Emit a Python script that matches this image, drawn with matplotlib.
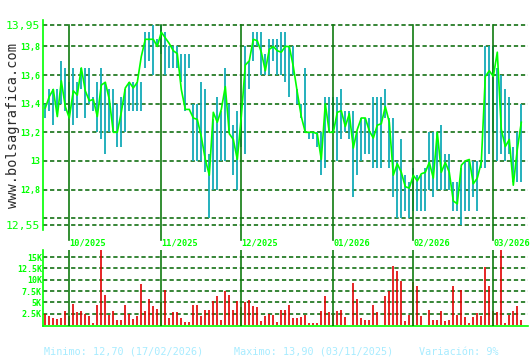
import matplotlib
matplotlib.use("Agg")
import matplotlib.pyplot as plt
import matplotlib.transforms as mtransforms

# ---------------- data ----------------
close = [13.37, 13.45, 13.50, 13.31, 13.56, 13.38, 13.30, 13.49, 13.46, 13.65,
         13.49, 13.42, 13.43, 13.31, 13.53, 13.55, 13.43, 13.20, 13.20, 13.34,
         13.51, 13.55, 13.51, 13.55, 13.73, 13.85, 13.85, 13.85, 13.80, 13.90,
         13.86, 13.82, 13.77, 13.75, 13.50, 13.36, 13.36, 13.30, 13.29, 13.17,
         13.01, 12.90, 13.34, 13.27, 13.36, 13.52, 13.19, 13.15, 13.01, 13.31,
         13.67, 13.70, 13.85, 13.84, 13.76, 13.63, 13.78, 13.80, 13.77, 13.76,
         13.80, 13.80, 13.66, 13.48, 13.31, 13.20, 13.20, 13.20, 13.19, 13.01,
         13.40, 13.20, 13.20, 13.34, 13.35, 13.24, 13.33, 13.09, 13.22, 13.30,
         13.30, 13.21, 13.16, 13.25, 13.26, 13.38, 13.27, 12.90, 12.98, 12.92,
         12.82, 12.81, 12.90, 12.86, 12.91, 12.92, 12.99, 12.88, 13.20, 12.92,
         12.99, 12.92, 12.72, 12.70, 12.97, 13.00, 13.01, 12.84, 12.88, 12.99,
         13.59, 13.63, 13.59, 13.76, 13.22, 13.10, 13.15, 12.83, 13.08, 13.27]

high = [13.40, 13.50, 13.50, 13.50, 13.70, 13.65, 13.55, 13.65, 13.55, 13.65,
        13.65, 13.65, 13.45, 13.55, 13.65, 13.55, 13.50, 13.50, 13.40, 13.45,
        13.50, 13.55, 13.55, 13.55, 13.55, 13.90, 13.90, 13.95, 13.85, 13.95,
        13.90, 13.80, 13.80, 13.80, 13.75, 13.75, 13.75, 13.40, 13.40, 13.55,
        13.50, 13.05, 13.29, 13.45, 13.35, 13.65, 13.40, 13.25, 13.35, 13.40,
        13.80, 13.70, 13.90, 13.90, 13.90, 13.75, 13.85, 13.85, 13.85, 13.90,
        13.90, 13.80, 13.80, 13.50, 13.40, 13.65, 13.20, 13.20, 13.20, 13.20,
        13.45, 13.45, 13.45, 13.45, 13.50, 13.35, 13.35, 13.35, 13.20, 13.30,
        13.30, 13.30, 13.45, 13.45, 13.45, 13.50, 13.30, 13.30, 13.00, 13.15,
        12.90, 12.85, 12.95, 12.90, 12.90, 12.95, 13.20, 13.20, 13.20, 13.25,
        13.05, 13.05, 12.85, 12.85, 12.95, 13.00, 13.00, 13.00, 13.00, 13.00,
        13.80, 13.80, 13.80, 13.65, 13.60, 13.50, 13.45, 13.10, 13.20, 13.40]

low = [13.30, 13.35, 13.25, 13.35, 13.40, 13.35, 13.30, 13.25, 13.30, 13.50,
       13.30, 13.40, 13.35, 13.20, 13.15, 13.05, 13.20, 13.20, 13.10, 13.10,
       13.20, 13.35, 13.35, 13.35, 13.35, 13.65, 13.70, 13.60, 13.80, 13.75,
       13.60, 13.65, 13.65, 13.65, 13.55, 13.35, 13.65, 13.00, 13.00, 13.00,
       12.92, 12.60, 12.80, 12.80, 13.00, 13.00, 13.20, 12.90, 12.80, 13.10,
       13.05, 13.50, 13.70, 13.80, 13.60, 13.60, 13.60, 13.70, 13.60, 13.60,
       13.55, 13.45, 13.60, 13.40, 13.30, 13.20, 13.15, 13.15, 13.10, 12.90,
       12.95, 13.20, 13.20, 13.00, 13.15, 13.20, 13.15, 12.75, 12.90, 13.00,
       13.05, 13.05, 12.95, 12.95, 12.95, 13.30, 12.95, 12.75, 12.60, 12.60,
       12.65, 12.60, 12.65, 12.65, 12.65, 12.65, 12.80, 12.75, 12.80, 12.80,
       12.80, 12.80, 12.65, 12.65, 12.55, 12.65, 12.65, 12.75, 12.65, 12.95,
       12.95, 13.05, 13.20, 13.00, 13.05, 13.00, 13.05, 12.85, 12.85, 12.85]

volume_k = [2.5, 1.9, 1.6, 1.4, 1.6, 3.0, 2.0, 4.7, 2.8, 3.0,
            2.5, 1.9, 0.4, 4.5, 17.5, 6.7, 2.1, 3.0, 1.0, 1.0,
            4.5, 2.5, 1.4, 1.9, 9.1, 3.0, 5.8, 4.1, 3.6, 5.0,
            7.7, 1.5, 2.8, 2.8, 1.5, 0.6, 0.6, 4.5, 4.5, 1.9,
            3.4, 3.4, 5.2, 6.5, 1.0, 7.4, 6.7, 3.4, 5.2, 4.0,
            5.0, 5.6, 4.1, 3.9, 0.8, 1.9, 2.5, 2.3, 0.6, 3.2,
            3.4, 4.5, 1.5, 1.5, 1.7, 2.3, 0.4, 0.4, 0.4, 3.0,
            6.3, 2.8, 2.5, 3.0, 3.4, 1.7, 0.1, 9.3, 5.8, 1.5,
            1.2, 1.0, 4.5, 2.8, 0.1, 6.3, 7.4, 13.0, 12.0, 9.8,
            0.8, 2.1, 9.5, 8.7, 1.9, 0.1, 3.2, 1.2, 1.2, 3.0,
            0.8, 1.2, 8.7, 2.3, 7.8, 1.7, 0.4, 1.7, 2.6, 1.9,
            12.8, 8.5, 3.0, 2.8, 17.5, 0.4, 2.1, 3.0, 4.1, 1.0]

month_idx = [6, 29, 49, 72, 92, 112]
month_labels = ["10/2025", "11/2025", "12/2025", "01/2026", "02/2026", "03/2026"]

price_ticks = [13.95, 13.8, 13.6, 13.4, 13.2, 13.0, 12.8, 12.55]
price_tick_labels = ["13,95", "13,8", "13,6", "13,4", "13,2", "13", "12,8", "12,55"]
price_minor_grid = [12.6]

vol_ticks = [2.5, 5, 7.5, 10, 12.5, 15]
vol_tick_labels = ["2.5K", "5K", "7.5K", "10K", "12.5K", "15K"]

footer_min = "Minimo: 12,70 (17/02/2026)"
footer_max = "Maximo: 13,90 (03/11/2025)"
footer_var = "Variación: 9%"
watermark = "www.bolsagrafica.com"

# ---------------- style ----------------
W, H = 530, 360
BRIGHT = "#00ff00"
GRID = "#006400"
MONTH = "#107c10"
TEAL = "#12aab8"
RED = "#e00000"
FOOT = "#a8ecff"
MONO = "DejaVu Sans Mono"

fig = plt.figure(figsize=(W / 100, H / 100), dpi=100)
fig.patch.set_facecolor("white")


def fx(px):
    return px / W


def fy(py):
    return 1 - py / H


left_px, right_px = 43.3, 528.0
x_first_px, step_px = 45.3, 4.0
xlim = (-(x_first_px - left_px) / step_px, (right_px - x_first_px) / step_px)
x = list(range(len(close)))

# ---------------- price axes ----------------
top_px, bot_px = 20.0, 230.0
ax = fig.add_axes([fx(left_px), fy(bot_px), (right_px - left_px) / W, (bot_px - top_px) / H])
ppu = (225.3 - 25.0) / 1.4
ax.set_xlim(*xlim)
ax.set_ylim(12.55 - (bot_px - 225.3) / ppu, 13.95 + (25.0 - top_px) / ppu)
ax.set_facecolor("white")

ax.set_yticks(price_ticks, labels=price_tick_labels)
ax.set_yticks(price_minor_grid, minor=True)
ax.tick_params(axis="y", which="both", length=0, pad=2.5, colors=BRIGHT)
for lab, v in zip(ax.get_yticklabels(), price_ticks):
    lab.set_family(MONO)
    lab.set_color(BRIGHT)
    if v in (13.95, 12.55):
        lab.set_fontsize(8.2)
    else:
        lab.set_fontsize(6.0)
        lab.set_fontweight("bold")
ax.grid(axis="y", which="both", color=GRID, lw=1.1, linestyle=(0, (2.8, 1.8)), zorder=1)
ax.set_axisbelow(True)

ax.set_xticks(month_idx, labels=month_labels)
ax.tick_params(axis="x", length=0, pad=6.0)
for lab in ax.get_xticklabels():
    lab.set_family(MONO)
    lab.set_fontsize(6.2)
    lab.set_fontweight("bold")
    lab.set_color(BRIGHT)
    lab.set_horizontalalignment("left")

for s in ("top", "right", "bottom"):
    ax.spines[s].set_visible(False)
ax.spines["left"].set_color(BRIGHT)
ax.spines["left"].set_linewidth(1.2)

ax.vlines(x, low, high, colors=TEAL, lw=1.3, zorder=2)

btr = mtransforms.blended_transform_factory(ax.transData, ax.transAxes)
y_top_frac = (bot_px - 25.0) / (bot_px - top_px)
y_bot_frac = (bot_px - 240.0) / (bot_px - top_px)
for m in month_idx:
    ax.plot([m, m], [y_bot_frac, y_top_frac], transform=btr, color=MONTH,
            lw=1.2, zorder=3, clip_on=False)

ax.plot(x, close, color=BRIGHT, lw=1.2, zorder=4)

# ---------------- volume axes ----------------
vtop_px, vbot_px = 250.0, 326.0
ax2 = fig.add_axes([fx(left_px), fy(vbot_px), (right_px - left_px) / W, (vbot_px - vtop_px) / H])
ppk = 11.33 / 2.5
ax2.set_xlim(*xlim)
ax2.set_ylim(-(vbot_px - 325.0) / ppk, (325.0 - vtop_px) / ppk)
ax2.set_facecolor("white")
ax2.set_yticks(vol_ticks, labels=vol_tick_labels)
ax2.tick_params(axis="y", length=0, pad=1.0)
for lab in ax2.get_yticklabels():
    lab.set_family(MONO)
    lab.set_fontsize(6.0)
    lab.set_fontweight("bold")
    lab.set_color(BRIGHT)
ax2.set_xticks([])
ax2.grid(axis="y", color=GRID, lw=1.1, linestyle=(0, (2.8, 1.8)), zorder=1)
ax2.set_axisbelow(True)
for s in ("top", "right"):
    ax2.spines[s].set_visible(False)
for s in ("left", "bottom"):
    ax2.spines[s].set_color(BRIGHT)
    ax2.spines[s].set_linewidth(1.2)

ax2.vlines(x, 0, volume_k, colors=RED, lw=1.2, zorder=2)
for m in month_idx:
    ax2.axvline(m, color=MONTH, lw=1.2, zorder=3)

# ---------------- texts ----------------
fig.text(fx(44), fy(352), footer_min, ha="left", va="center", family=MONO,
         fontsize=7.3, color=FOOT)
fig.text(fx(234), fy(352), footer_max, ha="left", va="center", family=MONO,
         fontsize=7.3, color=FOOT)
fig.text(fx(419), fy(352), footer_var, ha="left", va="center", family=MONO,
         fontsize=7.3, color=FOOT)

fig.text(fx(13), fy(126), watermark, rotation=90, ha="center", va="center",
         family=MONO, fontsize=9.8, color="#2a2a2a")

fig.savefig("out.png", dpi=100, facecolor="white")
